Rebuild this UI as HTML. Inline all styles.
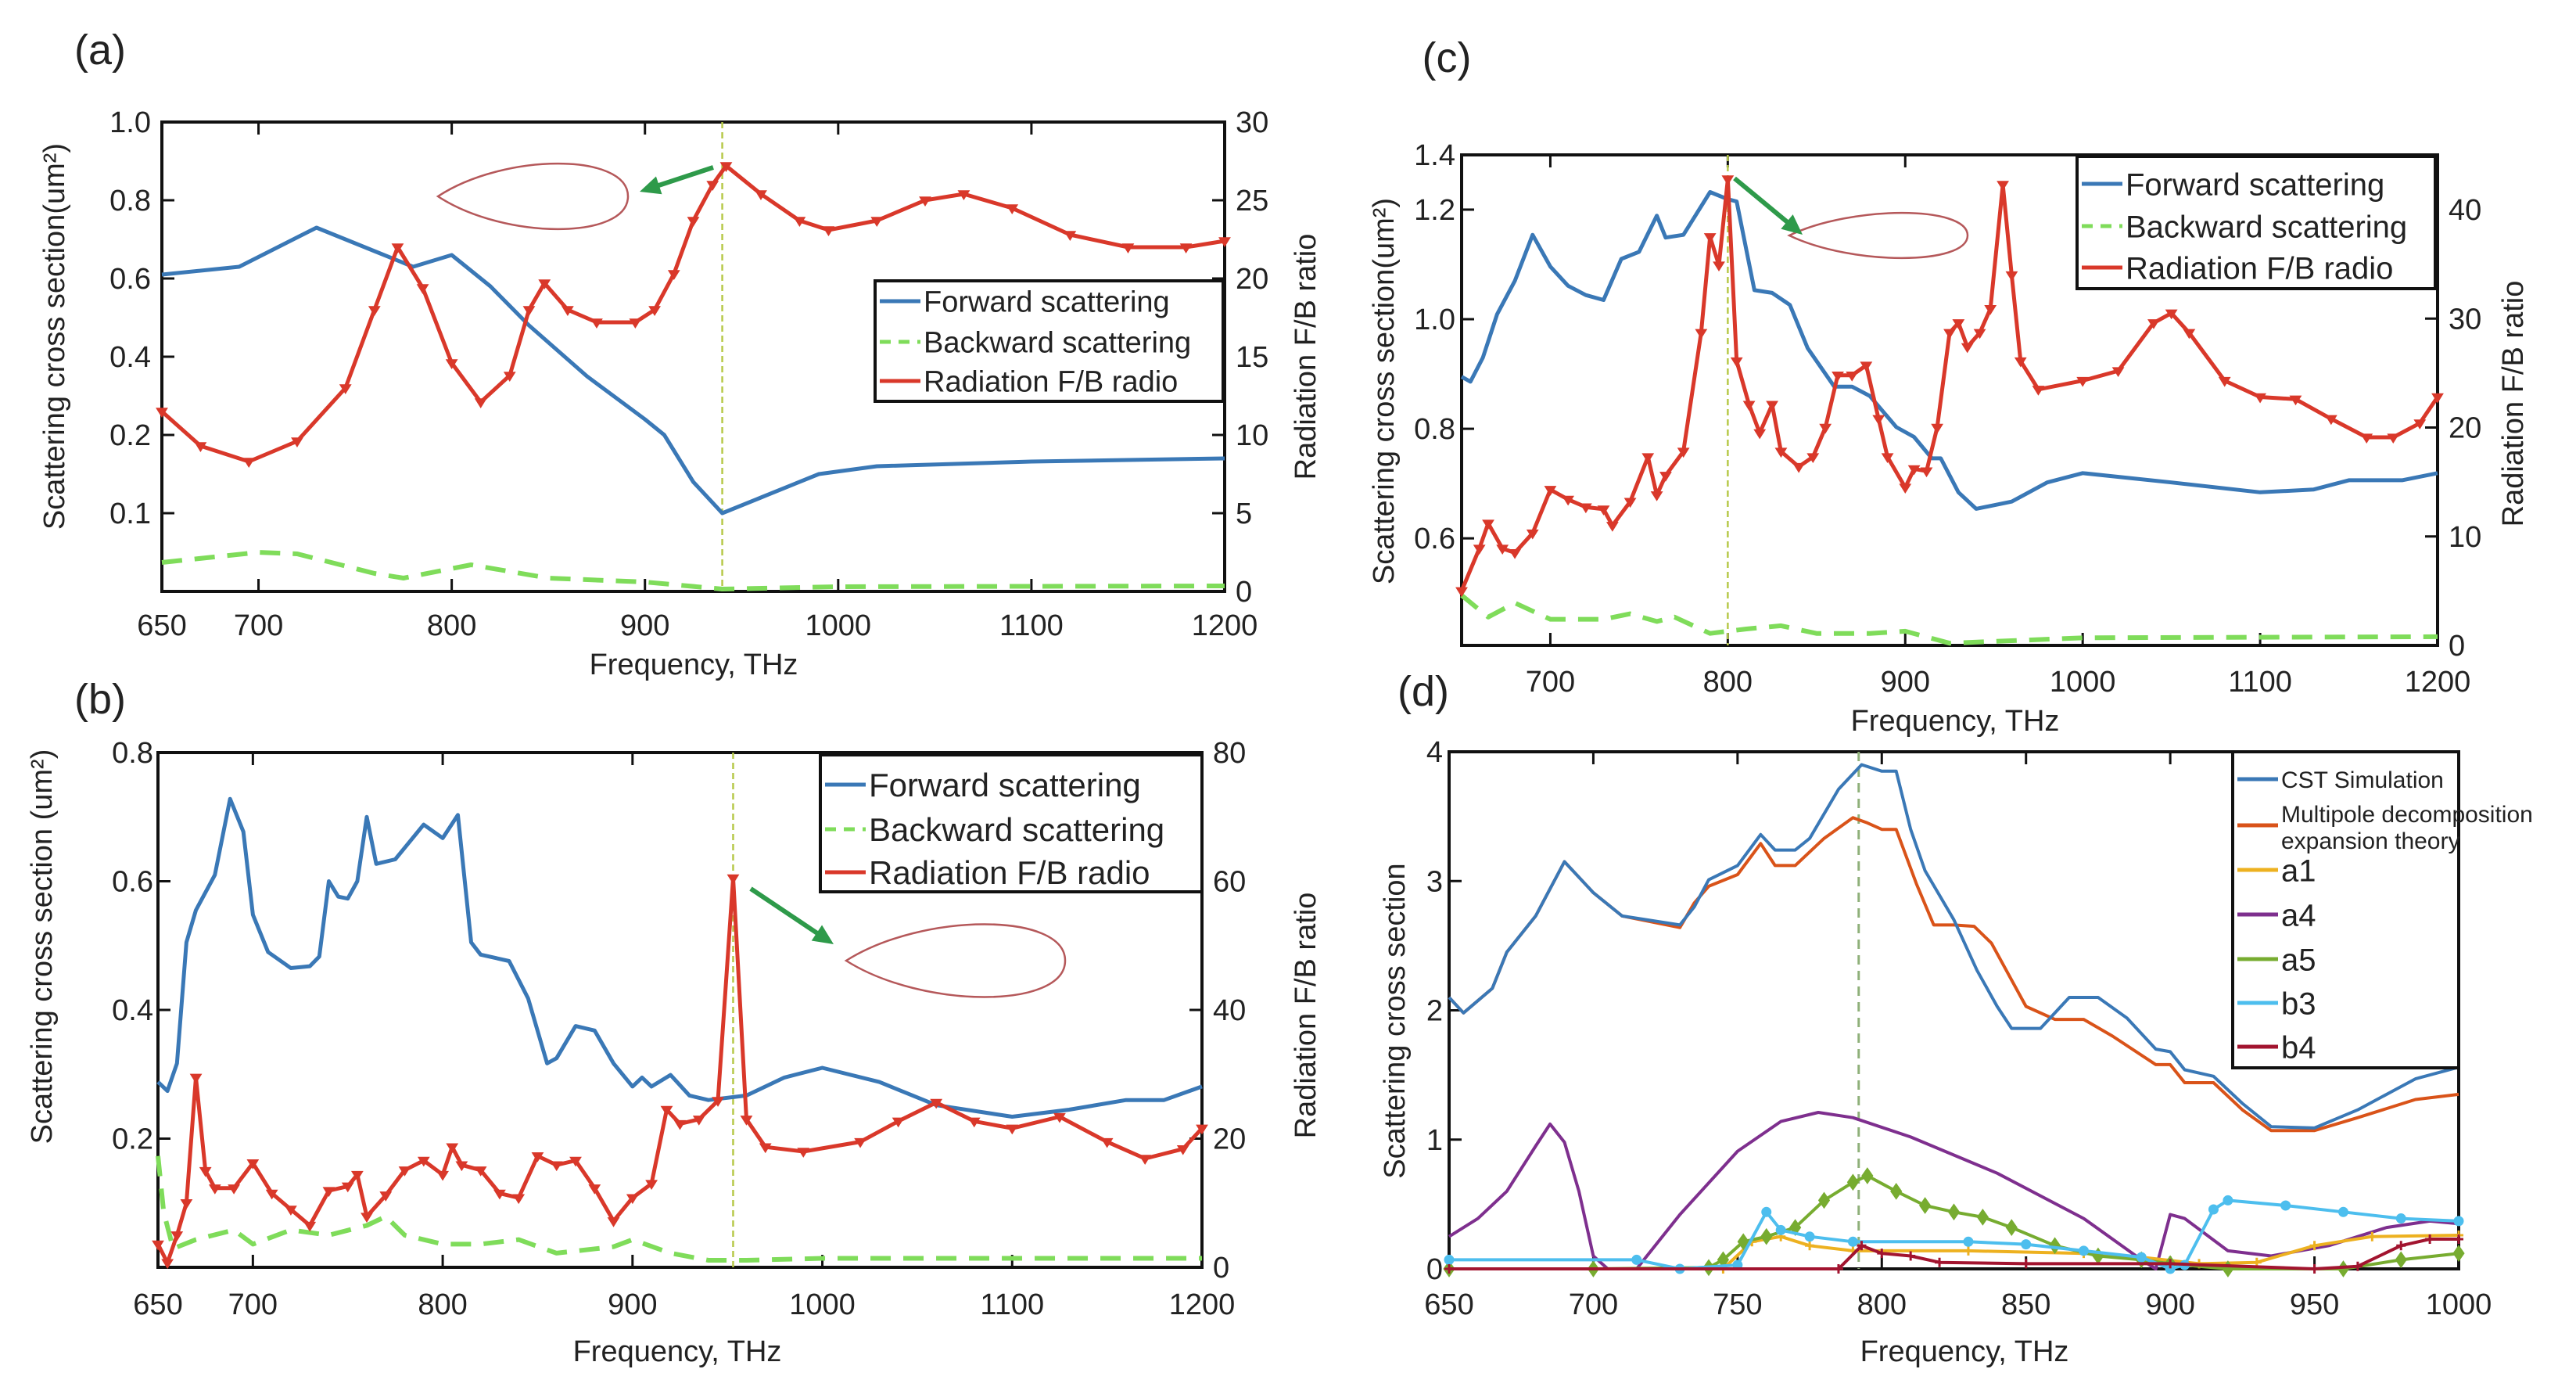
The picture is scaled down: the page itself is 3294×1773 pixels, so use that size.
<!DOCTYPE html>
<html><head><meta charset="utf-8"><style>
html,body{margin:0;padding:0;background:#fff;}
svg{display:block;font-family:"Liberation Sans Narrow","Liberation Sans",sans-serif;}
</style></head><body>
<svg id="fig" width="3294" height="1773" viewBox="0 0 3294 1773" xmlns="http://www.w3.org/2000/svg"></svg>
<script>
// ---------- Panel (a) data ----------
const aForwardX=[650,690,730,760,780,800,820,840,870,900,910,925,940,960,990,1020,1100,1200];
const aForwardY=[0.61,0.63,0.73,0.67,0.63,0.66,0.58,0.48,0.35,0.24,0.2,0.14,0.1,0.12,0.15,0.16,0.166,0.17];
const aBackX=[650,700,720,760,775,810,850,900,940,1000,1200];
const aBackY=[0.037,0.05,0.048,0.023,0.017,0.034,0.017,0.012,0.003,0.006,0.007];
const aRatioX=[650,670,695,720,745,760,772,785,800,815,830,840,848,860,875,895,905,915,925,935,942,960,980,995,1020,1045,1065,1090,1120,1150,1180,1200];
const aRatioY=[11.5,9.3,8.3,9.6,13,18,22,19.4,14.6,12.1,13.8,18,19.7,18,17.2,17.2,18,20.3,23.7,26,27.2,25.4,23.7,23.1,23.7,25,25.4,24.5,22.8,22,22,22.4];
const aXTicks=[650,700,800,900,1000,1100,1200];
const aLeftTicks=[0.1,0.2,0.4,0.6,0.8,1.0];
const aLeftTickPos=[5,10,15,20,25,30];
const aRightTicks=[0,5,10,15,20,25,30];
// ---------- Panel (b) data ----------
const bForwardX=[650,655,660,665,670,680,688,695,700,708,720,730,735,740,745,750,755,760,765,775,790,800,808,815,820,835,845,855,860,870,880,890,900,905,910,920,930,940,960,980,1000,1030,1060,1100,1130,1160,1180,1200];
const bForwardY=[0.288,0.274,0.317,0.505,0.555,0.61,0.728,0.677,0.548,0.49,0.465,0.468,0.483,0.6,0.576,0.573,0.6,0.7,0.627,0.634,0.688,0.667,0.703,0.505,0.486,0.476,0.418,0.317,0.325,0.375,0.368,0.317,0.281,0.295,0.281,0.299,0.267,0.26,0.267,0.295,0.31,0.288,0.252,0.234,0.245,0.26,0.26,0.281];
const bBackX=[650,653,658,670,690,700,720,740,760,770,780,800,820,840,860,890,900,920,940,960,1000,1200];
const bBackY=[0.173,0.086,0.029,0.043,0.058,0.036,0.058,0.05,0.065,0.079,0.05,0.036,0.036,0.043,0.022,0.032,0.043,0.022,0.011,0.011,0.014,0.014];
const bRatioX=[650,655,660,665,670,675,680,690,700,710,720,730,740,750,755,760,770,780,790,800,805,810,820,830,840,850,860,870,880,890,900,910,918,925,935,945,953,960,970,990,1020,1040,1060,1080,1100,1125,1150,1170,1190,1200];
const bRatioY=[3.6,0.7,5,10,29.5,15,12.3,12.3,16.2,11.5,9,6.5,11.9,12.6,14.4,7.9,11.2,15.1,16.6,14.4,18.7,15.9,15.1,11.5,10.8,17.3,15.9,16.6,12.3,7.2,10.8,13,24.5,22.3,23,25.9,60.5,23,18.7,18,19.5,22.7,25.6,22.7,21.6,23.4,19.5,16.9,18.4,21.6];
const bXTicks=[650,700,800,900,1000,1100,1200];
const bLeftTicks=[0.2,0.4,0.6,0.8];
const bRightTicks=[0,20,40,60,80];
// ---------- Panel (c) data ----------
const cForwardX=[650,655,662,670,680,690,700,710,720,730,740,750,760,765,775,790,800,805,815,825,835,845,860,870,880,895,905,915,920,930,940,960,980,1000,1050,1100,1130,1150,1180,1200];
const cForwardY=[0.895,0.886,0.93,1.009,1.07,1.154,1.096,1.061,1.044,1.035,1.11,1.123,1.189,1.149,1.154,1.232,1.219,1.215,1.053,1.048,1.026,0.947,0.877,0.877,0.86,0.803,0.785,0.746,0.746,0.684,0.654,0.667,0.702,0.719,0.702,0.684,0.689,0.706,0.706,0.719];
const cBackX=[650,665,680,700,730,745,760,770,790,810,830,850,880,900,925,1000,1200];
const cBackY=[4.6,2.6,3.9,2.4,2.4,2.9,2.2,2.6,1.1,1.5,1.8,1.1,1.1,1.3,0.2,0.7,0.8];
const cRatioX=[650,660,665,673,680,690,700,710,720,730,735,745,755,760,765,775,785,790,795,800,805,812,818,825,830,840,848,855,862,870,878,885,890,900,905,912,918,925,930,935,942,948,955,960,965,975,1000,1020,1040,1050,1060,1080,1100,1120,1140,1160,1175,1190,1200];
const cRatioY=[5,8.9,11.2,8.9,8.5,10.3,14.3,13.4,12.7,12.5,11,13.2,17.3,13.8,15.6,17.8,28.7,37.5,34.9,42.8,26.1,22.1,19.5,22.1,17.8,16.4,17.3,20,24.8,24.8,25.7,20.8,17.3,14.5,16.2,16,20,28.7,29.6,27.4,28.7,30.9,42.3,34,26.1,23.5,24.3,25.2,29.6,30.5,28.7,24.3,22.8,22.6,20.8,19.1,19.1,20.4,22.8];
const cXTicks=[700,800,900,1000,1100,1200];
const cLeftTicks=[0.6,0.8,1.0,1.2];
const cRightTicks=[0,10,20,30,40];
// ---------- Panel (d) data ----------
const dCstX=[650,655,665,670,680,690,700,710,730,735,740,750,758,763,770,775,785,793,800,805,810,815,825,833,840,845,855,865,875,885,895,900,905,915,925,935,950,965,985,1000];
const dCstY=[2.1,1.98,2.17,2.45,2.73,3.15,2.91,2.73,2.66,2.8,3.01,3.12,3.36,3.24,3.24,3.33,3.71,3.9,3.85,3.85,3.4,3.08,2.7,2.31,2.03,1.86,1.86,2.1,2.1,1.94,1.7,1.68,1.54,1.49,1.28,1.1,1.09,1.23,1.47,1.56];
const dMultiX=[650,655,665,670,680,690,700,710,730,735,740,750,758,763,770,780,790,795,800,805,812,818,825,832,838,850,860,870,880,895,900,905,915,925,935,950,965,985,1000];
const dMultiY=[2.1,1.98,2.17,2.45,2.73,3.15,2.91,2.73,2.64,2.83,2.96,3.05,3.29,3.12,3.12,3.33,3.49,3.45,3.4,3.4,2.98,2.66,2.66,2.65,2.52,2.03,1.93,1.93,1.8,1.58,1.58,1.44,1.44,1.23,1.07,1.07,1.17,1.31,1.35];
const dA1X=[650,700,745,755,765,775,790,830,870,890,910,930,950,970,1000];
const dA1Y=[0,0,0,0.21,0.25,0.18,0.14,0.14,0.12,0.09,0.04,0.05,0.18,0.25,0.26];
const dA4X=[650,660,670,680,685,690,695,700,705,715,730,750,765,778,790,810,840,870,890,895,900,905,920,935,955,975,990,1000];
const dA4Y=[0.25,0.39,0.6,0.95,1.12,0.98,0.6,0.1,0,0,0.42,0.91,1.14,1.21,1.17,1.02,0.74,0.39,0.07,0,0.42,0.39,0.14,0.1,0.18,0.32,0.37,0.35];
const dA5X=[650,700,740,745,752,760,770,780,790,795,805,815,825,835,845,860,875,890,900,920,960,980,1000];
const dA5Y=[0,0,0.01,0.07,0.21,0.25,0.32,0.53,0.67,0.72,0.6,0.49,0.44,0.4,0.32,0.18,0.1,0.07,0.04,0,0,0.07,0.12];
const dB3X=[650,715,730,750,760,765,775,790,830,850,870,890,900,905,915,920,940,960,980,1000];
const dB3Y=[0.07,0.07,0,0.03,0.44,0.3,0.25,0.21,0.21,0.19,0.14,0.09,0,0.03,0.46,0.53,0.49,0.44,0.39,0.37];
const dB4X=[650,785,793,800,810,820,850,900,950,965,980,990,1000];
const dB4Y=[0,0,0.18,0.12,0.1,0.05,0.04,0.04,0,0.02,0.18,0.23,0.23];
const dXTicks=[650,700,750,800,850,900,950,1000];
const dYTicks=[0,1,2,3,4];

const NS="http://www.w3.org/2000/svg";
const svg=document.getElementById('fig');
function el(tag,attrs,parent,text){const e=document.createElementNS(NS,tag);for(const k in attrs)e.setAttribute(k,attrs[k]);if(text!==undefined)e.textContent=text;(parent||svg).appendChild(e);return e;}
function lin(d0,d1,r0,r1){return v=>r0+(v-d0)/(d1-d0)*(r1-r0);}
function pw(doms,rng){return v=>{for(let i=0;i<doms.length-1;i++){if(v<=doms[i+1]||i===doms.length-2){return rng[i]+(v-doms[i])/(doms[i+1]-doms[i])*(rng[i+1]-rng[i]);}}};}
function pathD(xs,ys,X,Y){return xs.map((x,i)=>(i?'L':'M')+X(x).toFixed(1)+' '+Y(ys[i]).toFixed(1)).join(' ');}
function txt(x,y,s,size,anchor,parent,extra){const a=Object.assign({x:x,y:y,'font-size':size,'text-anchor':anchor||'middle',fill:'#222'},extra||{});return el('text',a,parent,s);}

function frame(g,L,R,T,B,X,xt,xlabY,xTicksTop){
  el('rect',{x:L,y:T,width:R-L,height:B-T,fill:'none',stroke:'#111','stroke-width':4},g);
  xt.forEach(v=>{const x=X(v);
    el('line',{x1:x,y1:B,x2:x,y2:B-16,stroke:'#111','stroke-width':3},g);
    el('line',{x1:x,y1:T,x2:x,y2:T+16,stroke:'#111','stroke-width':3},g);
    const t=txt(x,xlabY,String(v),38,'middle',g);
    
    
  });
}
function yticks(g,vals,Y,x,side,labels,labX,R){
  vals.forEach((v,i)=>{const y=Y(v);
    el('line',{x1:x,y1:y,x2:x+(side==='left'?16:-16),y2:y,stroke:'#111','stroke-width':3},g);
    const t=txt(labX,y+13,labels?labels[i]:String(v),38,side==='left'?'end':'start',g);
    
    
  });
}
function series(g,xs,ys,X,Y,color,w,dash,name){
  const p=el('path',{d:pathD(xs,ys,X,Y),fill:'none',stroke:color,'stroke-width':w,'stroke-linejoin':'round'},g);
  if(dash)p.setAttribute('stroke-dasharray',dash);
  
  
  return p;
}
function markers(g,xs,ys,X,Y,color,shape,sz,name){
  const mg=el('g',{},g);
  
  
  xs.forEach((x,i)=>{const cx=X(x),cy=Y(ys[i]);
    let d;
    if(shape==='tri')d=`M${cx-sz} ${cy-sz*0.6}L${cx+sz} ${cy-sz*0.6}L${cx} ${cy+sz}Z`;
    else if(shape==='dia')d=`M${cx} ${cy-sz}L${cx+sz*0.7} ${cy}L${cx} ${cy+sz}L${cx-sz*0.7} ${cy}Z`;
    else if(shape==='dot')d=`M${cx-sz} ${cy}a${sz} ${sz} 0 1 0 ${2*sz} 0a${sz} ${sz} 0 1 0 ${-2*sz} 0`;
    else d=`M${cx-sz} ${cy}L${cx+sz} ${cy}M${cx} ${cy-sz}L${cx} ${cy+sz}`;
    el('path',{d:d,fill:color,stroke:color,'stroke-width':shape==='plus'?3:1},mg);
  });
}
function lobe(g,x0,x1,cy,h,tipLeft,name){
  const w=x1-x0;let d;
  if(tipLeft)d=`M${x0} ${cy}C${x0+0.35*w} ${cy-0.62*h} ${x1} ${cy-0.62*h} ${x1} ${cy}C${x1} ${cy+0.62*h} ${x0+0.35*w} ${cy+0.62*h} ${x0} ${cy}Z`;
  else d=`M${x1} ${cy}C${x1-0.35*w} ${cy-0.62*h} ${x0} ${cy-0.62*h} ${x0} ${cy}C${x0} ${cy+0.62*h} ${x1-0.35*w} ${cy+0.62*h} ${x1} ${cy}Z`;
  const p=el('path',{d:d,fill:'none',stroke:'#b5585a','stroke-width':2.5},g);
  
  
}
function arrow(g,x1,y1,x2,y2,name){
  const a=Math.atan2(y2-y1,x2-x1),L=26,W=12;
  const ag=el('g',{},g);
  
  
  el('line',{x1:x1,y1:y1,x2:x2-Math.cos(a)*L*0.6,y2:y2-Math.sin(a)*L*0.6,stroke:'#2e9a4a','stroke-width':6},ag);
  const bx=x2-Math.cos(a)*L,by=y2-Math.sin(a)*L;
  el('path',{d:`M${x2} ${y2}L${bx-Math.sin(a)*W} ${by+Math.cos(a)*W}L${bx+Math.sin(a)*W} ${by-Math.cos(a)*W}Z`,fill:'#2e9a4a'},ag);
}
function legend(g,x,y,w,h,entries,fs,name){
  const lg=el('g',{},g);
  
  
  el('rect',{x:x,y:y,width:w,height:h,fill:'#fff',stroke:'#111','stroke-width':4},lg);
  entries.forEach(e=>{
    const eg=el('g',{},lg);
    
    
    if(e.color){const l=el('line',{x1:x+6,y1:e.ly||e.y,x2:x+58,y2:e.ly||e.y,stroke:e.color,'stroke-width':5},eg);if(e.dash)l.setAttribute('stroke-dasharray',e.dash);}
    if(e.mk){el('circle',{cx:x+32,cy:e.ly||e.y,r:6,fill:e.color},eg);}
    txt(x+62,e.y+(e.fs||fs)*0.36,e.t,e.fs||fs,'start',eg);
  });
}
function label(x,y,s,size,rot,name){
  const t=txt(x,y,s,size,'middle',svg);
  if(rot)t.setAttribute('transform',`rotate(-90 ${x} ${y})`);
  
  
  return t;
}
const BLUE='#3a78b6',RED='#d9382a',GREEN='#7fdc5a';

// ===== Panel (a) =====
(function(){
  const g=el('g',{});
  const L=207,R=1566,T=156,B=756;
  const X=lin(650,1200,L,R), YR=lin(0,30,B,T);
  const YLpos=pw([0].concat(aLeftTicks),[0].concat(aLeftTickPos));
  const YL=v=>YR(YLpos(v));
  frame(g,L,R,T,B,X,aXTicks,812);
  yticks(g,aLeftTicks,YL,L,'left',aLeftTicks.map(v=>v.toFixed(1)),L-14);
  yticks(g,aRightTicks,YR,R,'right',null,R+14);
  el('line',{x1:X(940),y1:T,x2:X(940),y2:B,stroke:'#b7c94a','stroke-width':2.5,'stroke-dasharray':'8 5'},g);
  series(g,aBackX,aBackY,X,YL,GREEN,6,'26 16','backward-scattering-line');
  series(g,aForwardX,aForwardY,X,YL,BLUE,5,null,'forward-scattering-line');
  series(g,aRatioX,aRatioY,X,YR,RED,5,null,'fb-ratio-line');
  markers(g,aRatioX,aRatioY,X,YR,RED,'tri',7,'fb-ratio-markers');
  lobe(g,560,803,251,90,true,'radiation-pattern-lobe');
  arrow(g,912,214,818,245,'pointer-arrow');
  legend(g,1119,359,445,154,[{t:'Forward scattering',y:385,color:BLUE},{t:'Backward scattering',y:437,color:GREEN,dash:'14 10'},{t:'Radiation F/B radio',y:487,color:RED}],38,'legend-a');
})();
label(128,82,'(a)',54,false,'panel-label-a');
label(887,862,'Frequency, THz',38,false,'x-axis-title-a');
label(82,430,'Scattering cross section(um²)',38,true,'y-axis-title-a');
label(1682,456,'Radiation F/B ratio',38,true,'right-y-axis-title-a');

// ===== Panel (b) =====
(function(){
  const g=el('g',{});
  const L=202,R=1537,T=962,B=1620;
  const X=lin(650,1200,L,R), YL=lin(0,0.8,B,T), YR=lin(0,80,B,T);
  frame(g,L,R,T,B,X,bXTicks,1680);
  yticks(g,bLeftTicks,YL,L,'left',bLeftTicks.map(v=>v.toFixed(1)),L-6);
  yticks(g,bRightTicks,YR,R,'right',null,R+14);
  el('line',{x1:X(953),y1:T,x2:X(953),y2:B,stroke:'#b7c94a','stroke-width':2.5,'stroke-dasharray':'8 5'},g);
  series(g,bBackX,bBackY,X,YL,GREEN,6,'26 16','backward-scattering-line');
  series(g,bForwardX,bForwardY,X,YL,BLUE,5,null,'forward-scattering-line');
  series(g,bRatioX,bRatioY,X,YR,RED,5,null,'fb-ratio-line');
  markers(g,bRatioX,bRatioY,X,YR,RED,'tri',7,'fb-ratio-markers');
  lobe(g,1082,1362,1228,100,true,'radiation-pattern-lobe');
  arrow(g,960,1136,1066,1207,'pointer-arrow');
  legend(g,1049,965,488,175,[{t:'Forward scattering',y:1003,color:BLUE},{t:'Backward scattering',y:1060,color:GREEN,dash:'14 10'},{t:'Radiation F/B radio',y:1115,color:RED}],42,'legend-b');
})();
label(128,912,'(b)',54,false,'panel-label-b');
label(866,1740,'Frequency, THz',38,false,'x-axis-title-b');
label(66,1210,'Scattering cross section (um²)',38,true,'y-axis-title-b');
label(1682,1298,'Radiation F/B ratio',38,true,'right-y-axis-title-b');

// ===== Panel (c) =====
(function(){
  const g=el('g',{});
  const L=1869,R=3117,T=198,B=825;
  const X=lin(650,1200,L,R), YL=lin(1.0,1.2,1.0*0+ (670*0.609),440*0.609), YR=lin(0,40,B,268);
  frame(g,L,R,T,B,X,cXTicks,884);
  yticks(g,cLeftTicks,YL,L,'left',cLeftTicks.map(v=>v.toFixed(1)),L-8);
  txt(L-8,T+13,'1.4',38,'end',g);
  yticks(g,cRightTicks,YR,R,'right',null,R+14);
  el('line',{x1:X(800),y1:T,x2:X(800),y2:B,stroke:'#b7c94a','stroke-width':2.5,'stroke-dasharray':'8 5'},g);
  series(g,cBackX,cBackY,X,YR,GREEN,6,'26 16','backward-scattering-line');
  series(g,cForwardX,cForwardY,X,YL,BLUE,5,null,'forward-scattering-line');
  series(g,cRatioX,cRatioY,X,YR,RED,5,null,'fb-ratio-line');
  markers(g,cRatioX,cRatioY,X,YR,RED,'tri',7,'fb-ratio-markers');
  lobe(g,2288,2516,301,62,true,'radiation-pattern-lobe');
  arrow(g,2218,228,2305,300,'pointer-arrow');
  legend(g,2656,200,458,169,[{t:'Forward scattering',y:235,color:BLUE},{t:'Backward scattering',y:289,color:GREEN,dash:'14 10'},{t:'Radiation F/B radio',y:342,color:RED}],40,'legend-c');
})();
label(1850,92,'(c)',54,false,'panel-label-c');
label(2500,934,'Frequency, THz',38,false,'x-axis-title-c');
label(1782,500,'Scattering cross section(um²)',38,true,'y-axis-title-c');
label(3226,516,'Radiation F/B ratio',38,true,'right-y-axis-title-c');

// ===== Panel (d) =====
(function(){
  const g=el('g',{});
  const L=1853,R=3144,T=961,B=1622;
  const X=lin(650,1000,L,R), Y=lin(0,4,B,T);
  frame(g,L,R,T,B,X,dXTicks,1680);
  yticks(g,dYTicks,Y,L,'left',null,L-8);
  el('line',{x1:X(792),y1:T,x2:X(792),y2:B,stroke:'#8fb07a','stroke-width':3,'stroke-dasharray':'12 8'},g);
  series(g,dA4X,dA4Y,X,Y,'#7e2f8e',4,null,'a4-line');
  series(g,dA1X,dA1Y,X,Y,'#edb120',4,null,'a1-line');
  markers(g,dA1X,dA1Y,X,Y,'#edb120','plus',6,'a1-markers');
  series(g,dA5X,dA5Y,X,Y,'#77ac30',4,null,'a5-line');
  markers(g,dA5X,dA5Y,X,Y,'#77ac30','dia',10,'a5-markers');
  series(g,dB3X,dB3Y,X,Y,'#4dbeee',4,null,'b3-line');
  markers(g,dB3X,dB3Y,X,Y,'#4dbeee','dot',6,'b3-markers');
  series(g,dB4X,dB4Y,X,Y,'#a2142f',4,null,'b4-line');
  markers(g,dB4X,dB4Y,X,Y,'#a2142f','plus',6,'b4-markers');
  series(g,dMultiX,dMultiY,X,Y,'#d95319',4,null,'multipole-line');
  series(g,dCstX,dCstY,X,Y,'#3a78b6',4,null,'cst-simulation-line');
  legend(g,2855,961,289,404,[
    {t:'CST Simulation',y:996,color:'#3a78b6',fs:30},
    {t:'Multipole decomposition',y:1040,ly:1055,color:'#d95319',fs:30},
    {t:'expansion theory',y:1074,ly:-1,fs:30},
    {t:'a1',y:1112,color:'#edb120'},
    {t:'a4',y:1169,color:'#7e2f8e'},
    {t:'a5',y:1226,color:'#77ac30'},
    {t:'b3',y:1282,color:'#4dbeee'},
    {t:'b4',y:1338,color:'#a2142f'}],40,'legend-d');
})();
label(1820,902,'(d)',54,false,'panel-label-d');
label(2512,1740,'Frequency, THz',38,false,'x-axis-title-d');
label(1796,1305,'Scattering cross section',38,true,'y-axis-title-d');
</script>
</body></html>
